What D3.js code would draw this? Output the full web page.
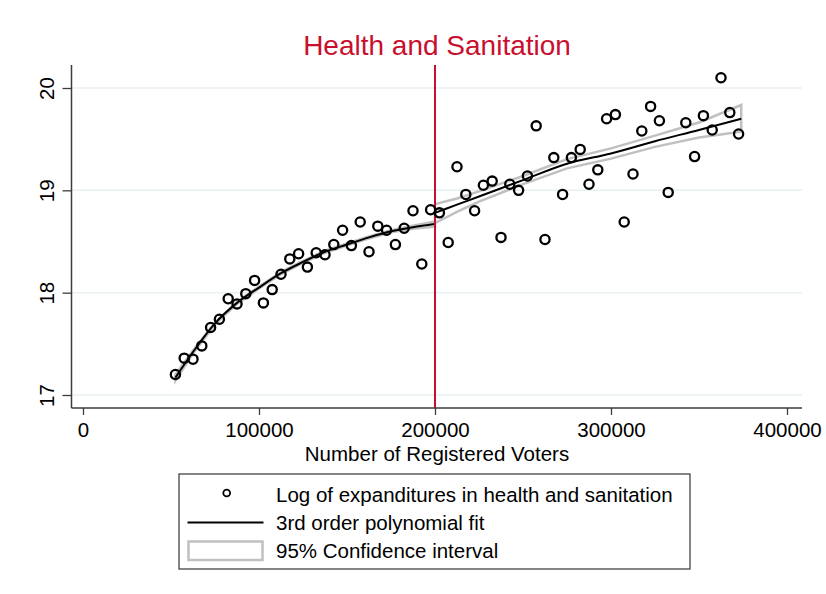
<!DOCTYPE html>
<html>
<head>
<meta charset="utf-8">
<script src="https://cdn.jsdelivr.net/npm/d3@7"></script>
<style>
  html, body { margin: 0; padding: 0; background: #ffffff; }
  svg { display: block; font-family: "Liberation Sans", Arial, sans-serif; }
</style>
</head>
<body>
<svg id="chart" width="826" height="594"></svg>
<script>
// Registered voters (binned) and mean log expenditure on health and sanitation
const voters = [
  52500, 57500, 62500, 67500, 72500, 77500, 82500, 87500, 92500, 97500,
  102500, 107500, 112500, 117500, 122500, 127500, 132500, 137500, 142500, 147500,
  152500, 157500, 162500, 167500, 172500, 177500, 182500, 187500, 192500, 197500,
  202500, 207500, 212500, 217500, 222500, 227500, 232500, 237500, 242500, 247500,
  252500, 257500, 262500, 267500, 272500, 277500, 282500, 287500, 292500, 297500,
  302500, 307500, 312500, 317500, 322500, 327500, 332500, 342500, 347500,
  352500, 357500, 362500, 367500, 372500
];
const logExp = [
  17.20, 17.36, 17.35, 17.48, 17.66, 17.74, 17.94, 17.89, 17.99, 18.12,
  17.90, 18.03, 18.18, 18.33, 18.38, 18.25, 18.39, 18.37, 18.47, 18.61,
  18.46, 18.69, 18.40, 18.65, 18.61, 18.47, 18.63, 18.80, 18.28, 18.81,
  18.78, 18.49, 19.23, 18.96, 18.80, 19.05, 19.09, 18.54, 19.06, 19.00,
  19.14, 19.63, 18.52, 19.32, 18.96, 19.32, 19.40, 19.06, 19.20, 19.70,
  19.74, 18.69, 19.16, 19.58, 19.82, 19.68, 18.98, 19.66, 19.33,
  19.73, 19.59, 20.10, 19.76, 19.55
];

// Cubic fit and 95% band below the 200000 cutoff
const fitLeftX  = [52500, 62500, 75000, 87500, 100000, 112500, 125000, 137500, 150000, 162500, 175000, 187500, 200000];
const fitLeftY  = [17.17, 17.42, 17.70, 17.90, 18.05, 18.19, 18.30, 18.40, 18.47, 18.54, 18.60, 18.64, 18.67];
const ciLeftLo  = [17.14, 17.405, 17.69, 17.89, 18.04, 18.18, 18.29, 18.39, 18.46, 18.53, 18.59, 18.625, 18.645];
const ciLeftHi  = [17.20, 17.435, 17.71, 17.91, 18.06, 18.20, 18.31, 18.41, 18.48, 18.55, 18.61, 18.655, 18.695];

// Cubic fit and 95% band above the cutoff
const fitRightX = [200000, 212500, 225000, 250000, 275000, 300000, 325000, 350000, 374000];
const fitRightY = [18.78, 18.86, 18.94, 19.10, 19.26, 19.36, 19.48, 19.59, 19.70];
const ciRightLo = [18.68, 18.79, 18.89, 19.06, 19.215, 19.31, 19.425, 19.517, 19.573];
const ciRightHi = [18.865, 18.92, 18.99, 19.14, 19.305, 19.41, 19.535, 19.663, 19.834];

const cutoff = 200000;
const xTicks = [0, 100000, 200000, 300000, 400000];
const yTicks = [17, 18, 19, 20];

const titleText = "Health and Sanitation";
const xTitle = "Number of Registered Voters";
const legendLabels = [
  "Log of expanditures in health and sanitation",
  "3rd order polynomial fit",
  "95% Confidence interval"
];

const RED = "#c8102e";
const CI_GRAY = "#c0c0c0";
const GRID = "#e8f0f2";
const AXIS = "#3c3c3c";
const FONT = "20.5px";

const svg = d3.select("#chart");

// Plot region
const plot = { left: 71.5, right: 802, top: 65, bottom: 408 };

const x = d3.scaleLinear().domain([0, 400000]).range([83, 787]);
const y = d3.scaleLinear().domain([17, 20]).range([395, 88]);

// Gridlines
svg.append("g")
  .selectAll("line")
  .data(yTicks)
  .join("line")
  .attr("x1", plot.left).attr("x2", plot.right)
  .attr("y1", d => y(d)).attr("y2", d => y(d))
  .attr("stroke", GRID).attr("stroke-width", 1.5);

// Confidence bands (outline only)
function band(xs, lo, hi) {
  const pts = xs.map((v, i) => [x(v), y(hi[i])])
    .concat(xs.map((v, i) => [x(v), y(lo[i])]).reverse());
  return "M" + pts.map(p => p.join(",")).join("L") + "Z";
}
svg.append("path")
  .attr("d", band(fitLeftX, ciLeftLo, ciLeftHi))
  .attr("fill", "none").attr("stroke", CI_GRAY).attr("stroke-width", 2.5)
  .attr("stroke-linejoin", "miter");
svg.append("path")
  .attr("d", band(fitRightX, ciRightLo, ciRightHi))
  .attr("fill", "none").attr("stroke", CI_GRAY).attr("stroke-width", 2.5)
  .attr("stroke-linejoin", "miter");

// Fit lines
const fitLine = d3.line().x(d => x(d[0])).y(d => y(d[1])).curve(d3.curveMonotoneX);
svg.append("path")
  .attr("d", fitLine(fitLeftX.map((v, i) => [v, fitLeftY[i]])))
  .attr("fill", "none").attr("stroke", "#000").attr("stroke-width", 2);
svg.append("path")
  .attr("d", fitLine(fitRightX.map((v, i) => [v, fitRightY[i]])))
  .attr("fill", "none").attr("stroke", "#000").attr("stroke-width", 2);

// Cutoff line
svg.append("line")
  .attr("x1", x(cutoff)).attr("x2", x(cutoff))
  .attr("y1", plot.top).attr("y2", plot.bottom)
  .attr("stroke", RED).attr("stroke-width", 2);

// Scatter points
svg.append("g")
  .selectAll("circle")
  .data(voters.map((v, i) => [v, logExp[i]]))
  .join("circle")
  .attr("cx", d => x(d[0])).attr("cy", d => y(d[1]))
  .attr("r", 4.6)
  .attr("fill", "none").attr("stroke", "#000").attr("stroke-width", 2.3);

// Axes
const xAxis = svg.append("g")
  .attr("transform", `translate(0,${plot.bottom})`)
  .call(d3.axisBottom(x).tickValues(xTicks).tickFormat(d3.format("d")).tickSize(7).tickPadding(7));
const yAxis = svg.append("g")
  .attr("transform", `translate(${plot.left},0)`)
  .call(d3.axisLeft(y).tickValues(yTicks).tickFormat(d3.format("d")).tickSize(9).tickPadding(4));

[xAxis, yAxis].forEach(g => {
  g.select(".domain").remove();
  g.selectAll(".tick line").attr("stroke", AXIS).attr("stroke-width", 1.3);
  g.selectAll("text").attr("fill", "#000").attr("font-size", FONT)
    .attr("font-family", "'Liberation Sans', Arial, sans-serif");
});
yAxis.selectAll(".tick text")
  .attr("text-anchor", "middle")
  .attr("x", 0).attr("dy", 0)
  .attr("transform", "translate(-25,0) rotate(-90)")
  .attr("dominant-baseline", "central");

svg.append("line")
  .attr("x1", plot.left).attr("x2", plot.right)
  .attr("y1", plot.bottom).attr("y2", plot.bottom)
  .attr("stroke", AXIS).attr("stroke-width", 1.5);
svg.append("line")
  .attr("x1", plot.left).attr("x2", plot.left)
  .attr("y1", plot.top).attr("y2", plot.bottom)
  .attr("stroke", AXIS).attr("stroke-width", 1.5);

// Titles
svg.append("text")
  .attr("x", 437).attr("y", 55)
  .attr("text-anchor", "middle")
  .attr("font-size", "28px").attr("fill", RED)
  .text(titleText);
svg.append("text")
  .attr("x", 437).attr("y", 461)
  .attr("text-anchor", "middle")
  .attr("font-size", FONT).attr("fill", "#000")
  .text(xTitle);

// Legend
const lg = svg.append("g");
lg.append("rect")
  .attr("x", 179).attr("y", 474).attr("width", 511).attr("height", 95)
  .attr("fill", "#fff").attr("stroke", "#444").attr("stroke-width", 1.3);
const rowY = [494.5, 522.5, 550.5];
lg.append("circle")
  .attr("cx", 226.7).attr("cy", rowY[0] - 1.5).attr("r", 3.4)
  .attr("fill", "none").attr("stroke", "#000").attr("stroke-width", 1.8);
lg.append("line")
  .attr("x1", 187.5).attr("x2", 263.5).attr("y1", rowY[1]).attr("y2", rowY[1])
  .attr("stroke", "#000").attr("stroke-width", 2);
lg.append("rect")
  .attr("x", 188.5).attr("y", 541.5).attr("width", 74).attr("height", 18.5)
  .attr("fill", "#fff").attr("stroke", CI_GRAY).attr("stroke-width", 2.5);
lg.selectAll("text.lab")
  .data(legendLabels)
  .join("text")
  .attr("class", "lab")
  .attr("x", 276).attr("y", (d, i) => rowY[i])
  .attr("dominant-baseline", "central")
  .attr("font-size", FONT).attr("fill", "#000")
  .text(d => d);
</script>
</body>
</html>
